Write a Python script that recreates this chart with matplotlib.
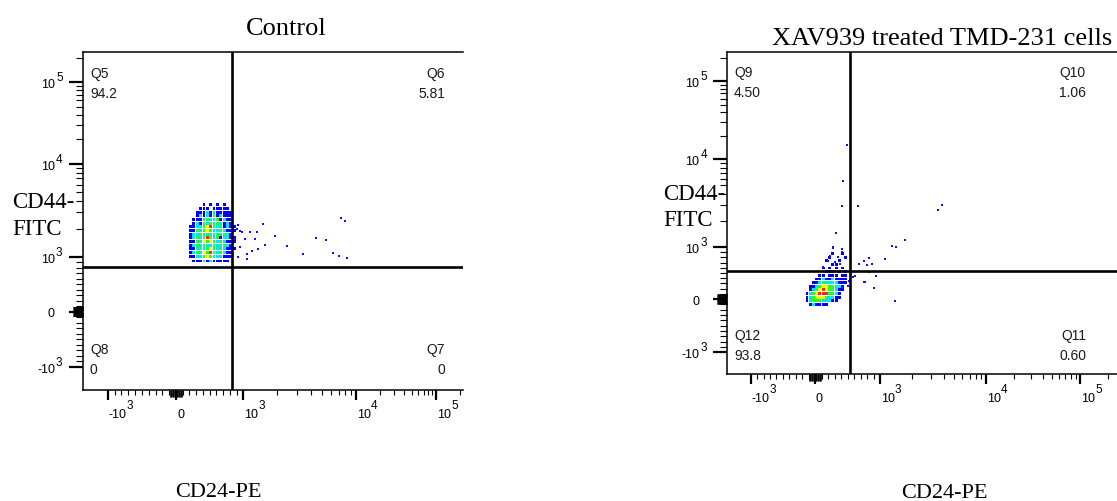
import numpy as np
import matplotlib.pyplot as plt
from matplotlib.colors import ListedColormap, BoundaryNorm
from matplotlib.transforms import blended_transform_factory as blend

W, H = 1117, 502

# ---------------- data ----------------
titles = ["Control", "XAV939 treated TMD-231 cells"]
x_title = "CD24-PE"
y_title = ["CD44-", "FITC"]

ctrl_quads = [("Q5", "94.2"), ("Q6", "5.81"), ("Q7", "0"), ("Q8", "0")]
xav_quads = [("Q9", "4.50"), ("Q10", "1.06"), ("Q11", "0.60"), ("Q12", "93.8")]

# quadrant gates (CD24, CD44)
ctrl_gate = (837, 818)
xav_gate = (543, 533)

major_vals = [-1000, 0, 1000, 10000, 100000]
major_base = ["-10", "0", "10", "10", "10"]
major_exp = ["3", "", "3", "4", "5"]
minor_vals = ([-v for v in range(100, 1000, 100)] + list(range(100, 1000, 100))
              + list(range(2000, 10000, 1000)) + list(range(20000, 100000, 10000)) + [200000])
zero_vals = [v for v in range(-90, 100, 10) if v != 0]

# density of the main population, levels 0 (none) .. 5 (highest)
ctrl_x_edges = np.arange(140, 900, 50)
ctrl_y_edges = np.geomspace(3800, 880, 17)
ctrl_levels = [
    "000001010101000",
    "000011101111100",
    "000111212111110",
    "000121213121110",
    "001112322312110",
    "001213232321210",
    "011223453231211",
    "011323432232111",
    "012232322323210",
    "012323532312211",
    "011324343232111",
    "012323223223210",
    "011232343232111",
    "012324353232110",
    "011223432221110",
    "001112121111100",
]
# sparse events outside the main population
ctrl_x = [900, 975, 1035, 1500, 1910, 2430, 4420, 5420, 7320, 8040, 850, 950, 1070, 1360,
          1560, 3400, 6210, 7110, 8370, 1070, 925, 950, 875, 1145, 1315, 1270, 1190, 925]
ctrl_y = [1990, 1830, 1550, 2250, 1685, 1315, 1580, 1525, 2600, 2445, 1370, 1265, 1070, 1210,
          1340, 1070, 1095, 1010, 975, 960, 2200, 1905, 1550, 1830, 1830, 1550, 1160, 990]

xav_x_edges = np.arange(-150, 551, 50)
xav_y_edges = np.arange(910, -211, -70)
xav_levels = [
    "00000000100100",
    "00000001000010",
    "00000010001000",
    "00000000110000",
    "00000101010100",
    "00000011101010",
    "00001101110110",
    "00011211211110",
    "00112322221110",
    "01123443322100",
    "01234543321100",
    "12345553321000",
    "12344432211000",
    "12333222110000",
    "01211110000000",
    "00000000000000",
]
xav_x = [490, 435, 420, 657, 318, 281, 410, 1290, 1415, 1720, 3550, 3820, 677, 754, 835, 795,
         881, 1122, 620, 580, 749, 774, 835, 938, 912, 1376, 523, 512, 281, 411, 358, 231, 205,
         308, 385, 128]
xav_y = [15300, 5580, 2900, 2900, 1440, 980, 960, 1035, 1005, 1210, 2650, 3000, 673, 736, 783,
         654, 673, 769, 448, 429, 333, 333, 513, 448, 212, -33, 352, 256, 994, 898, 802, 833, 736,
         706, 673, 610]

# ---------------- helpers ----------------
def to_u(x):
    # linear inside +-1000, log outside
    x = np.asarray(x, float)
    a = np.maximum(np.abs(x), 1000.0)
    return np.where(np.abs(x) <= 1000, x / 1000.0, np.sign(x) * (1 + np.log10(a / 1000.0)))


def from_u(u):
    u = np.clip(np.asarray(u, float), -12, 12)
    a = np.maximum(np.abs(u), 1.0)
    return np.where(np.abs(u) <= 1, u * 1000.0, np.sign(u) * 1000.0 * 10 ** (a - 1))


def lin(x, xp, fp):
    x = np.asarray(x, float)
    y = np.interp(x, xp, fp)
    y = np.where(x < xp[0], fp[0] + (x - xp[0]) * (fp[1] - fp[0]) / (xp[1] - xp[0]), y)
    y = np.where(x > xp[-1], fp[-1] + (x - xp[-1]) * (fp[-1] - fp[-2]) / (xp[-1] - xp[-2]), y)
    return y


def make_scale(pix):
    U = np.array([-1, 0, 1, 2, 3], float)
    P = np.array(pix, float)
    return (lambda x: lin(to_u(x), U, P)), (lambda p: from_u(lin(p, P, U)))


def fx(px):
    return px / W


def fy(py):
    return 1 - py / H


cmap = ListedColormap(["#0000ff", "#00e5ff", "#22ff22", "#ffff00", "#ff2a00"])
norm = BoundaryNorm([0.5, 1.5, 2.5, 3.5, 4.5, 5.5], cmap.N)

plt.rcParams["font.family"] = ["Liberation Sans", "DejaVu Sans"]
fig = plt.figure(figsize=(W / 100, H / 100), dpi=100)


def panel(box, xpix, ypix, x_edges, y_edges, levels, ox, oy, gate, quads, qpos):
    l, t, r, b = box
    ax = fig.add_axes([fx(l), fy(b), fx(r) - fx(l), (b - t) / H])
    xf, xi = make_scale(xpix)
    yf, yi = make_scale([-p for p in ypix])
    ax.set_xscale("function", functions=(xf, xi))
    ax.set_yscale("function", functions=(yf, yi))
    ax.set_xlim(xi(l), xi(r))
    ax.set_ylim(yi(-b), yi(-t))

    # density bins drawn as small square dots
    z = np.array([[int(c) for c in row] for row in levels])
    xc = (x_edges[:-1] + x_edges[1:]) / 2
    yc = (y_edges[:-1] + y_edges[1:]) / 2
    gx, gy = np.meshgrid(xc, yc)
    keep = z > 0
    ax.scatter(gx[keep], gy[keep], c=z[keep], cmap=cmap, norm=norm, s=4.2, marker="s",
               linewidths=0, zorder=2)
    ax.scatter(ox, oy, s=1.6, marker="s", color="#1010ff", linewidths=0, zorder=2)

    ax.axvline(gate[0], color="black", lw=1.9, zorder=3)
    ax.axhline(gate[1], color="black", lw=1.9, zorder=3)

    for s in ["left", "top", "bottom"]:
        ax.spines[s].set_linewidth(1.1)
    ax.spines["right"].set_visible(False)

    ax.set_xticks(major_vals)
    ax.set_yticks(major_vals)
    ax.set_xticks(minor_vals, minor=True)
    ax.set_yticks(minor_vals, minor=True)
    ax.set_xticklabels([])
    ax.set_yticklabels([])
    ax.tick_params(axis="x", which="major", length=7, width=1.6)
    ax.tick_params(axis="x", which="minor", length=3.5, width=0.8)
    ax.tick_params(axis="y", which="major", length=10, width=1.6)
    ax.tick_params(axis="y", which="minor", length=5, width=0.8)

    # dense ticks around zero
    aw, ah = r - l, b - t
    ax.vlines(zero_vals, 0, -7 / ah, color="black", lw=0.6, clip_on=False,
              transform=blend(ax.transData, ax.transAxes))
    ax.hlines(zero_vals, 0, -10 / aw, color="black", lw=0.6, clip_on=False,
              transform=blend(ax.transAxes, ax.transData))

    # tick labels, FlowJo style
    tx = blend(ax.transData, ax.transAxes)
    ty = blend(ax.transAxes, ax.transData)
    for v, base, ex in zip(major_vals, major_base, major_exp):
        bt = ax.annotate(base, xy=(v, 0), xycoords=tx, xytext=(1, -24),
                         textcoords="offset pixels", ha="left", va="center", fontsize=9)
        if ex:
            ax.annotate(ex, xy=(1, 0.5), xycoords=bt, xytext=(0, 9),
                        textcoords="offset pixels", ha="left", va="center", fontsize=8.5)
        bt = ax.annotate(base, xy=(0, v), xycoords=ty, xytext=(-28, -2),
                         textcoords="offset pixels", ha="right", va="center", fontsize=9)
        if ex:
            ax.annotate(ex, xy=(1, 0.5), xycoords=bt, xytext=(1, 7),
                        textcoords="offset pixels", ha="left", va="center", fontsize=8.5)

    # quadrant names and percentages
    qc = "#1a1a1a"
    for (name, val), (px, py, ha) in zip(quads, qpos):
        fig.text(fx(px), fy(py), name, ha=ha, va="center", fontsize=10, color=qc)
        fig.text(fx(px), fy(py + 20), val, ha=ha, va="center", fontsize=10, color=qc)
    return ax


panel((83, 53, 463, 391), [107.7, 176, 243.3, 356, 436], [367.7, 312.5, 257.7, 165, 83.3],
      ctrl_x_edges, ctrl_y_edges, ctrl_levels, ctrl_x, ctrl_y, ctrl_gate, ctrl_quads,
      [(90, 74, "left"), (445, 74, "right"), (445, 350, "right"), (90, 350, "left")])

panel((727.3, 53.3, 1130, 375), [750.7, 815, 880, 986, 1080], [353.3, 300, 248, 160, 82.3],
      xav_x_edges, xav_y_edges, xav_levels, xav_x, xav_y, xav_gate, xav_quads,
      [(734, 73, "left"), (1086, 73, "right"), (1086, 336, "right"), (734, 336, "left")])

serif = ["Liberation Serif", "DejaVu Serif"]
fig.text(fx(286.5), fy(35), titles[0], ha="center", va="baseline", fontsize=19, family=serif)
fig.text(fx(941.7), fy(45), titles[1], ha="center", va="baseline", fontsize=19, family=serif)
fig.text(fx(12), fy(208), y_title[0], ha="left", va="baseline", fontsize=16.5, family=serif)
fig.text(fx(12), fy(235), y_title[1], ha="left", va="baseline", fontsize=16.5, family=serif)
fig.text(fx(663), fy(200), y_title[0], ha="left", va="baseline", fontsize=16.5, family=serif)
fig.text(fx(663), fy(226), y_title[1], ha="left", va="baseline", fontsize=16.5, family=serif)
fig.text(fx(218), fy(497), x_title, ha="center", va="baseline", fontsize=16, family=serif)
fig.text(fx(944), fy(498), x_title, ha="center", va="baseline", fontsize=16, family=serif)

fig.savefig("out.png", dpi=100)
